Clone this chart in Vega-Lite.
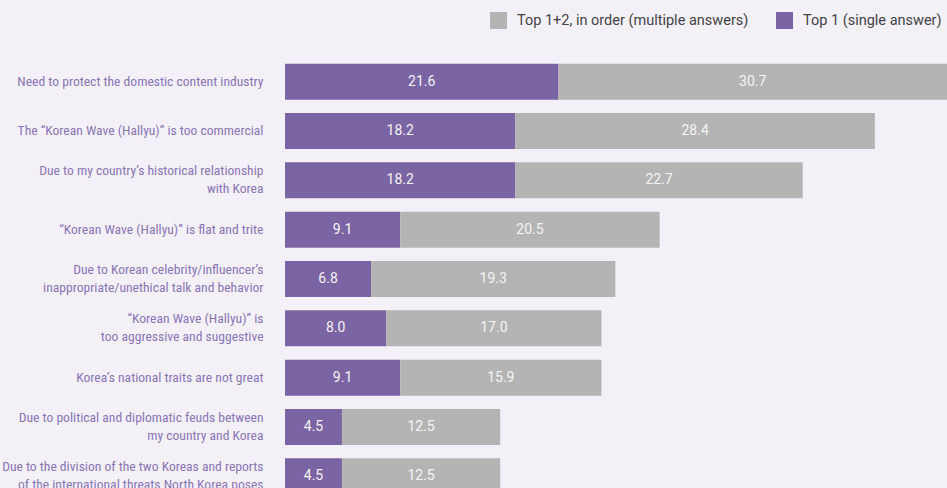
{
  "$schema": "https://vega.github.io/schema/vega-lite/v6.json",
  "autosize": "none",
  "width": 662,
  "height": 444,
  "padding": {"left": 285, "top": 57, "right": 0, "bottom": 0},
  "background": "#f3f0f8",
  "config": {"view": {"stroke": null}, "font": "Roboto"},
  "data": {"values": [
    {"category": "Need to protect the domestic content industry", "rank": 1, "series": "Top 1 (single answer)", "ord": 1, "value": 21.6},
    {"category": "Need to protect the domestic content industry", "rank": 1, "series": "Top 1+2, in order (multiple answers)", "ord": 2, "value": 30.7},
    {"category": "The “Korean Wave (Hallyu)” is too commercial", "rank": 2, "series": "Top 1 (single answer)", "ord": 1, "value": 18.2},
    {"category": "The “Korean Wave (Hallyu)” is too commercial", "rank": 2, "series": "Top 1+2, in order (multiple answers)", "ord": 2, "value": 28.4},
    {"category": "Due to my country’s historical relationship|with Korea", "rank": 3, "series": "Top 1 (single answer)", "ord": 1, "value": 18.2},
    {"category": "Due to my country’s historical relationship|with Korea", "rank": 3, "series": "Top 1+2, in order (multiple answers)", "ord": 2, "value": 22.7},
    {"category": "“Korean Wave (Hallyu)” is flat and trite", "rank": 4, "series": "Top 1 (single answer)", "ord": 1, "value": 9.1},
    {"category": "“Korean Wave (Hallyu)” is flat and trite", "rank": 4, "series": "Top 1+2, in order (multiple answers)", "ord": 2, "value": 20.5},
    {"category": "Due to Korean celebrity/influencer’s|inappropriate/unethical talk and behavior", "rank": 5, "series": "Top 1 (single answer)", "ord": 1, "value": 6.8},
    {"category": "Due to Korean celebrity/influencer’s|inappropriate/unethical talk and behavior", "rank": 5, "series": "Top 1+2, in order (multiple answers)", "ord": 2, "value": 19.3},
    {"category": "“Korean Wave (Hallyu)” is|too aggressive and suggestive", "rank": 6, "series": "Top 1 (single answer)", "ord": 1, "value": 8.0},
    {"category": "“Korean Wave (Hallyu)” is|too aggressive and suggestive", "rank": 6, "series": "Top 1+2, in order (multiple answers)", "ord": 2, "value": 17.0},
    {"category": "Korea’s national traits are not great", "rank": 7, "series": "Top 1 (single answer)", "ord": 1, "value": 9.1},
    {"category": "Korea’s national traits are not great", "rank": 7, "series": "Top 1+2, in order (multiple answers)", "ord": 2, "value": 15.9},
    {"category": "Due to political and diplomatic feuds between|my country and Korea", "rank": 8, "series": "Top 1 (single answer)", "ord": 1, "value": 4.5},
    {"category": "Due to political and diplomatic feuds between|my country and Korea", "rank": 8, "series": "Top 1+2, in order (multiple answers)", "ord": 2, "value": 12.5},
    {"category": "Due to the division of the two Koreas and reports|of the international threats North Korea poses", "rank": 9, "series": "Top 1 (single answer)", "ord": 1, "value": 4.5},
    {"category": "Due to the division of the two Koreas and reports|of the international threats North Korea poses", "rank": 9, "series": "Top 1+2, in order (multiple answers)", "ord": 2, "value": 12.5}
  ]},
  "transform": [
    {"stack": "value", "groupby": ["category"], "sort": [{"field": "ord", "order": "ascending"}], "as": ["v0", "v1"]},
    {"calculate": "(datum.v0 + datum.v1) / 2", "as": "mid"}
  ],
  "encoding": {
    "y": {
      "field": "category", "type": "nominal",
      "sort": {"field": "rank", "op": "min", "order": "ascending"},
      "scale": {"paddingInner": 0.27, "paddingOuter": 0.135},
      "axis": {
        "title": null, "domain": false, "ticks": false, "labelPadding": 22,
        "labelExpr": "split(datum.label, '|')", "labelLimit": 400,
        "labelFontSize": 13.6, "labelColor": "#8a76b5", "labelLineHeight": 18,
        "labelFont": "Liberation Sans Narrow, Roboto Condensed, Arial Narrow, sans-serif",
        "labelOffset": {"condition": {"test": "indexof(datum.value, '|') >= 0", "value": -9}, "value": 0}
      }
    }
  },
  "layer": [
    {
      "mark": {"type": "bar"},
      "encoding": {
        "x": {"field": "v0", "type": "quantitative", "scale": {"domain": [0, 52.3], "nice": false}, "axis": null},
        "x2": {"field": "v1"},
        "color": {
          "field": "series", "type": "nominal",
          "scale": {"domain": ["Top 1+2, in order (multiple answers)", "Top 1 (single answer)"], "range": ["#b4b4b4", "#7b64a3"]},
          "legend": {
            "title": null, "orient": "none", "direction": "horizontal",
            "legendX": 205, "legendY": -45, "padding": 0,
            "symbolType": "square", "symbolSize": 289, "symbolStrokeWidth": 0, "symbolOpacity": 1,
            "labelFontSize": 14.5, "labelColor": "#444444", "labelOffset": 10,
            "columnPadding": 27, "labelLimit": 400
          }
        }
      }
    },
    {
      "mark": {"type": "text", "color": "#f4f4f4", "fontSize": 14, "baseline": "middle", "align": "center"},
      "encoding": {
        "x": {"field": "mid", "type": "quantitative"},
        "text": {"field": "value", "type": "quantitative", "format": ".1f"}
      }
    }
  ]
}
